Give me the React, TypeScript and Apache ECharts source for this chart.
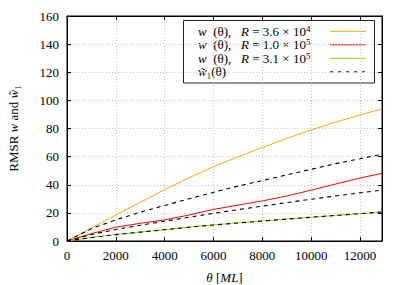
import React, { useEffect, useRef } from "react";
import * as echarts from "echarts";

const theta = [0, 1000, 2000, 3000, 4000, 5000, 6000, 7000, 8000, 9000, 10000, 11000, 12000, 12900];
const wR36 = [0, 9.3, 18.5, 27.5, 36.5, 45, 52.8, 59.8, 66.5, 73, 79, 84.5, 89.6, 94];
const wR100 = [0, 5.2, 9.8, 12.6, 15, 18.5, 22.5, 25.5, 28.5, 32, 36.2, 40.5, 44.8, 48.1];
const wR310 = [0, 2.5, 4.6, 6.4, 8.1, 9.9, 11.5, 12.9, 14.2, 15.6, 16.9, 18.1, 19.4, 20.5];
const fitR36 = [0, 8.8, 15, 20.5, 25.3, 30, 34.7, 39, 43, 47, 51, 55, 58.5, 61.7];
const fitR100 = [0, 4.6, 8.2, 11.2, 14.1, 16.9, 19.7, 22.3, 24.8, 27.3, 29.7, 32, 34.3, 36.2];
const fitR310 = [0, 2.4, 4.5, 6.3, 8.0, 9.8, 11.4, 12.8, 14.2, 15.6, 16.9, 18.2, 19.5, 20.6];

const xTicks = { min: 0, max: 12900, interval: 2000 };
const yTicks = { min: 0, max: 160, interval: 20 };

const legendLabels = [
  "{i|w}  (θ),   {i|R} = 3.6 × 10{s|4}",
  "{i|w}  (θ),   {i|R} = 1.0 × 10{s|5}",
  "{i|w}  (θ),   {i|R} = 3.1 × 10{s|5}",
  "{i|w̃}₁(θ)",
];
const COLORS = ["#ffa500", "#ff0000", "#80e000", "#111111"];

const FONT = "Liberation Serif";
const FS = 13;

function pairs(ys: number[]) {
  return theta.map((t, i) => [t, ys[i]]);
}

export default function App() {
  const ref = useRef<HTMLDivElement>(null);
  useEffect(() => {
    if (!ref.current) return;
    const chart = echarts.init(ref.current, null, { renderer: "svg" });
    const solid = (ys: number[], color: string) => ({
      type: "line",
      data: pairs(ys),
      symbol: "none",
      lineStyle: { color, width: 1 },
      itemStyle: { color },
    });
    const dashed = (ys: number[]) => ({
      type: "line",
      data: pairs(ys),
      symbol: "none",
      lineStyle: { color: "#000", width: 1.1, type: [4, 4] },
      itemStyle: { color: "#000" },
      z: 3,
    });
    const axisCommon = {
      axisLine: { show: true, onZero: false, lineStyle: { color: "#000", width: 1 } },
      axisTick: { show: true, inside: true, length: 4, lineStyle: { color: "#000" } },
    };
    const rich = {
      i: { fontFamily: FONT, fontStyle: "italic", fontSize: FS, color: "#000" },
      s: { fontFamily: FONT, fontSize: 9, color: "#000", verticalAlign: "top", padding: [0, 0, 5, 0] },
    };
    const legendX = 183.5;
    const legendY = 20.5;
    const rowY = [31.3, 44.8, 58.3, 71.8];
    const legendChildren: any[] = [
      {
        type: "rect",
        shape: { x: legendX, y: legendY, width: 191, height: 62.5 },
        style: { fill: "#fff", stroke: "#222", lineWidth: 1 },
      },
    ];
    legendLabels.forEach((lab, k) => {
      legendChildren.push({
        type: "text",
        x: 198,
        y: rowY[k],
        style: {
          text: lab,
          fontFamily: FONT,
          fontSize: FS,
          fill: "#000",
          verticalAlign: "middle",
          align: "left",
          rich,
        },
      });
      legendChildren.push({
        type: "line",
        shape: { x1: 330, y1: rowY[k], x2: 366, y2: rowY[k] },
        style: {
          stroke: COLORS[k],
          lineWidth: 1,
          lineDash: k === 3 ? [3, 5] : null,
        },
      });
    });
    chart.setOption({
      animation: false,
      textStyle: { fontFamily: FONT },
      grid: {
        left: 67,
        right: 25,
        top: 16,
        bottom: 44,
        containLabel: false,
        outerBoundsMode: "none",
        show: true,
        borderColor: "#000",
        borderWidth: 1,
        backgroundColor: "transparent",
      },
      graphic: [{ type: "group", z: 100, children: legendChildren }],
      xAxis: [
        {
          type: "value",
          ...xTicks,
          ...axisCommon,
          position: "bottom",
          axisLabel: {
            fontFamily: FONT,
            fontSize: FS,
            color: "#000",
            margin: 8,
            showMaxLabel: false,
            formatter: (v: number) => String(v),
          },
          splitLine: { show: true, lineStyle: { color: "#c4c4c4", type: [1, 2], width: 1 } },
          name: "{i|θ} [{i|ML}]",
          nameLocation: "middle",
          nameGap: 30,
          nameTextStyle: { fontFamily: FONT, fontSize: FS, color: "#000", rich },
        },
        {
          type: "value",
          ...xTicks,
          ...axisCommon,
          position: "top",
          axisLabel: { show: false },
          splitLine: { show: false },
        },
      ],
      yAxis: [
        {
          type: "value",
          ...yTicks,
          ...axisCommon,
          position: "left",
          axisLabel: {
            fontFamily: FONT,
            fontSize: FS,
            color: "#000",
            margin: 8,
            formatter: (v: number) => String(v),
          },
          splitLine: { show: true, lineStyle: { color: "#c4c4c4", type: [1, 2], width: 1 } },
          name: "RMSR {i|w} and {i|w̃}₁",
          nameLocation: "middle",
          nameGap: 47,
          nameTextStyle: { fontFamily: FONT, fontSize: FS, color: "#000", rich },
        },
        {
          type: "value",
          ...yTicks,
          ...axisCommon,
          position: "right",
          axisLabel: { show: false },
          splitLine: { show: false },
        },
      ],
      series: [
        solid(wR36, COLORS[0]),
        solid(wR100, COLORS[1]),
        solid(wR310, COLORS[2]),
        dashed(fitR36),
        dashed(fitR100),
        dashed(fitR310),
      ],
    });
    return () => chart.dispose();
  }, []);
  return (
    <div
      ref={ref}
      style={{ position: "absolute", left: 0, top: 0, width: 407, height: 285, background: "#fff" }}
    />
  );
}
